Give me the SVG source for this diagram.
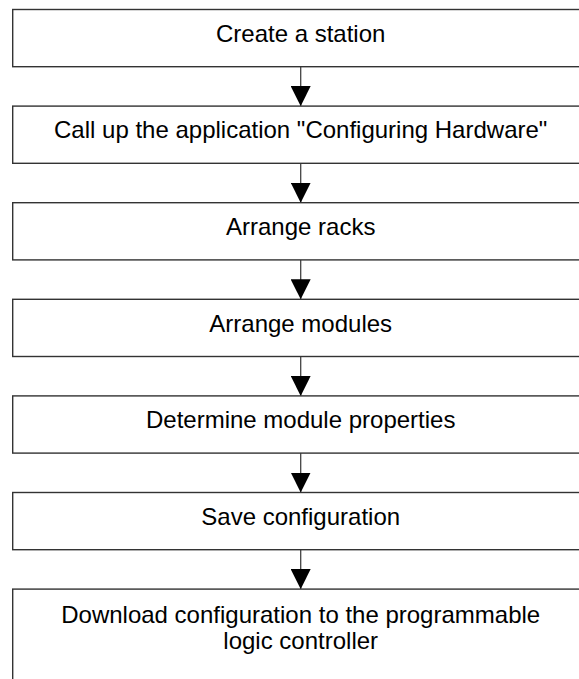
<svg xmlns="http://www.w3.org/2000/svg" width="579" height="679" viewBox="0 0 579 679">
<style>
.box{fill:#fff;stroke:#333;stroke-width:1.4}
.lbl{font-family:"Liberation Sans",Arial,sans-serif;font-size:24px;fill:#000;text-anchor:middle}
.conn{stroke:#444;stroke-width:1.3;fill:none}
</style>
<defs>
<marker id="ah" viewBox="0 0 20 20" refX="20" refY="10" markerWidth="20" markerHeight="20" markerUnits="userSpaceOnUse" orient="auto">
<path d="M0,0 L20,10 L0,20 Z" fill="#000"/>
</marker>
</defs>
<rect width="579" height="679" fill="#fff"/>
<g id="connectors">
<line class="conn" x1="300.7" y1="66.7" x2="300.7" y2="106.1" marker-end="url(#ah)"/>
<line class="conn" x1="300.7" y1="163.3" x2="300.7" y2="202.7" marker-end="url(#ah)"/>
<line class="conn" x1="300.7" y1="259.9" x2="300.7" y2="299.3" marker-end="url(#ah)"/>
<line class="conn" x1="300.7" y1="356.5" x2="300.7" y2="395.9" marker-end="url(#ah)"/>
<line class="conn" x1="300.7" y1="453.1" x2="300.7" y2="492.5" marker-end="url(#ah)"/>
<line class="conn" x1="300.7" y1="549.7" x2="300.7" y2="589.1" marker-end="url(#ah)"/>
</g>
<g id="n1"><rect class="box" x="12.7" y="9.5" width="576" height="57.2"/><text class="lbl" x="300.7" y="42">Create a station</text></g>
<g id="n2"><rect class="box" x="12.7" y="106.1" width="576" height="57.2"/><text class="lbl" x="300.7" y="138.3">Call up the application "Configuring Hardware"</text></g>
<g id="n3"><rect class="box" x="12.7" y="202.7" width="576" height="57.2"/><text class="lbl" x="300.7" y="234.9">Arrange racks</text></g>
<g id="n4"><rect class="box" x="12.7" y="299.3" width="576" height="57.2"/><text class="lbl" x="300.7" y="331.5">Arrange modules</text></g>
<g id="n5"><rect class="box" x="12.7" y="395.9" width="576" height="57.2"/><text class="lbl" x="300.7" y="428.1">Determine module properties</text></g>
<g id="n6"><rect class="box" x="12.7" y="492.5" width="576" height="57.2"/><text class="lbl" x="300.7" y="524.7">Save configuration</text></g>
<g id="n7"><rect class="box" x="12.7" y="589.1" width="576" height="120"/><text class="lbl" x="300.7" y="622.5">Download configuration to the programmable</text><text class="lbl" x="300.7" y="649">logic controller</text></g>
</svg>
